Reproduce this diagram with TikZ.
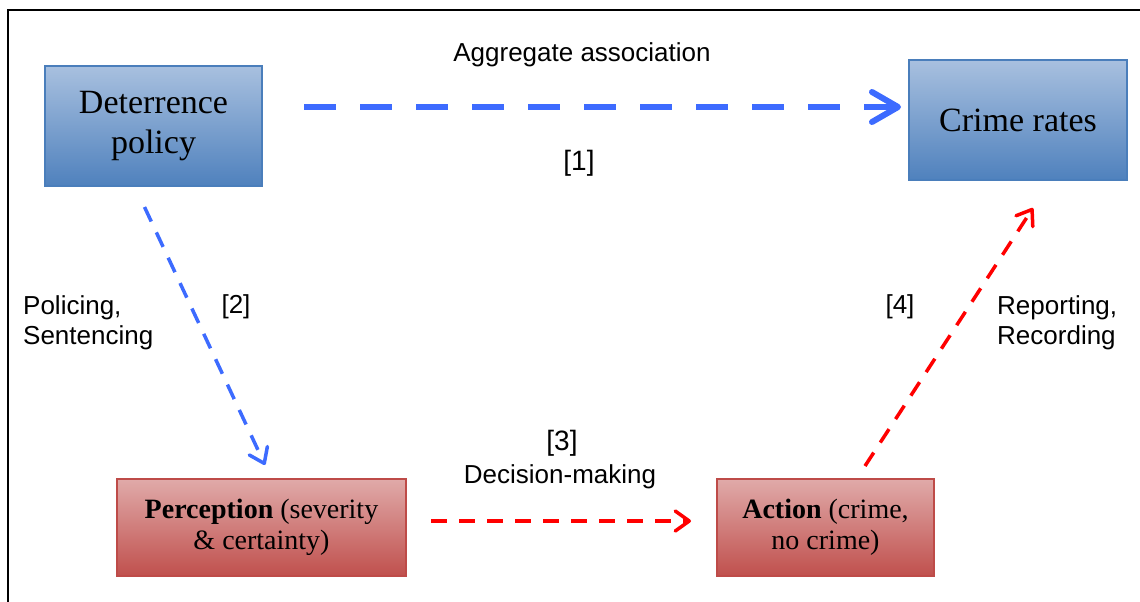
\documentclass[tikz,border=0pt]{standalone}
\usepackage{fontspec}
\setmainfont{Liberation Serif}
\setsansfont{Liberation Sans}
\usetikzlibrary{arrows.meta,calc}

\definecolor{bluetop}{RGB}{168,192,223}
\definecolor{bluebot}{RGB}{79,129,189}
\definecolor{blueedge}{RGB}{74,126,187}
\definecolor{redtop}{RGB}{224,170,169}
\definecolor{redbot}{RGB}{192,80,77}
\definecolor{rededge}{RGB}{190,75,72}
\definecolor{arrowblue}{RGB}{61,107,255}
\definecolor{arrowred}{RGB}{255,0,0}

\tikzset{
  bluebox/.style={draw=blueedge, line width=2pt, top color=bluetop, bottom color=bluebot,
    minimum width=217pt, minimum height=120pt, inner sep=0pt, align=center,
    font=\fontsize{34}{40}\selectfont},
  redbox/.style={draw=rededge, line width=2pt, top color=redtop, bottom color=redbot,
    inner sep=0pt, align=center, font=\fontsize{28}{31}\selectfont},
  lbl/.style={inner sep=0pt, font=\sffamily\fontsize{26}{30}\selectfont},
  bigblue/.style={draw=arrowblue, line width=6pt, dash pattern=on 32pt off 24pt,
    -{Straight Barb[length=26pt,width=30pt,round]}},
  thinblue/.style={draw=arrowblue, line width=3.5pt, dash pattern=on 16pt off 12pt,
    -{Straight Barb[length=14pt,width=20pt,round]}},
  thinred/.style={draw=arrowred, line width=3.5pt, dash pattern=on 16pt off 12pt,
    -{Straight Barb[length=14pt,width=20pt,round]}},
}

\begin{document}
\begin{tikzpicture}[x=1pt,y=-1pt]
  \path[use as bounding box] (0,0) rectangle (1140,602);

  % outer frame (top and left edges)
  \draw[line width=2pt] (8,602) -- (8,10) -- (1140,10);

  % boxes
  \node[bluebox] (dp) at (153.5,126) {Deterrence\\policy};
  \node[bluebox, minimum width=218pt] (cr) at (1018,120) {Crime rates};
  \node[redbox, minimum width=289pt, minimum height=97pt] (pc) at (261.5,527.5)
    {\textbf{Perception} (severity\\\& certainty)};
  \node[redbox, minimum width=217pt, minimum height=97pt] (ac) at (825.5,527.5)
    {\textbf{Action} (crime,\\no crime)};

  % connectors
  \draw[bigblue, shorten <=41pt, shorten >=7pt]
    ([yshift=19pt]dp.east) -- ([yshift=13pt]cr.west);
  \draw[thinblue]
    ([xshift=-9pt,yshift=-20pt]dp.south) -- ([xshift=3.5pt,yshift=13pt]pc.north);
  \draw[thinred, shorten <=24pt, shorten >=25pt]
    ([yshift=6.5pt]pc.east) -- ([yshift=6.5pt]ac.west);
  \draw[thinred]
    ([xshift=39.5pt,yshift=12pt]ac.north) -- ([xshift=15pt,yshift=-27pt]cr.south);

  % labels
  \node[lbl] (agg) at (582,55) {Aggregate association};
  \node[lbl, font=\sffamily\fontsize{28}{32}\selectfont] (n1) at (579,163) {[1]};
  \node[lbl, anchor=west, align=left] (pol) at (23,323) {Policing,\\Sentencing};
  \node[lbl] (n2) at (236,307) {[2]};
  \node[lbl, font=\sffamily\fontsize{28}{32}\selectfont] (n3) at (562,443) {[3]};
  \node[lbl] (dec) at (560,477) {Decision-making};
  \node[lbl] (n4) at (900,307) {[4]};
  \node[lbl, anchor=west, align=left] (rep) at (997,323) {Reporting,\\Recording};
\end{tikzpicture}
\end{document}
